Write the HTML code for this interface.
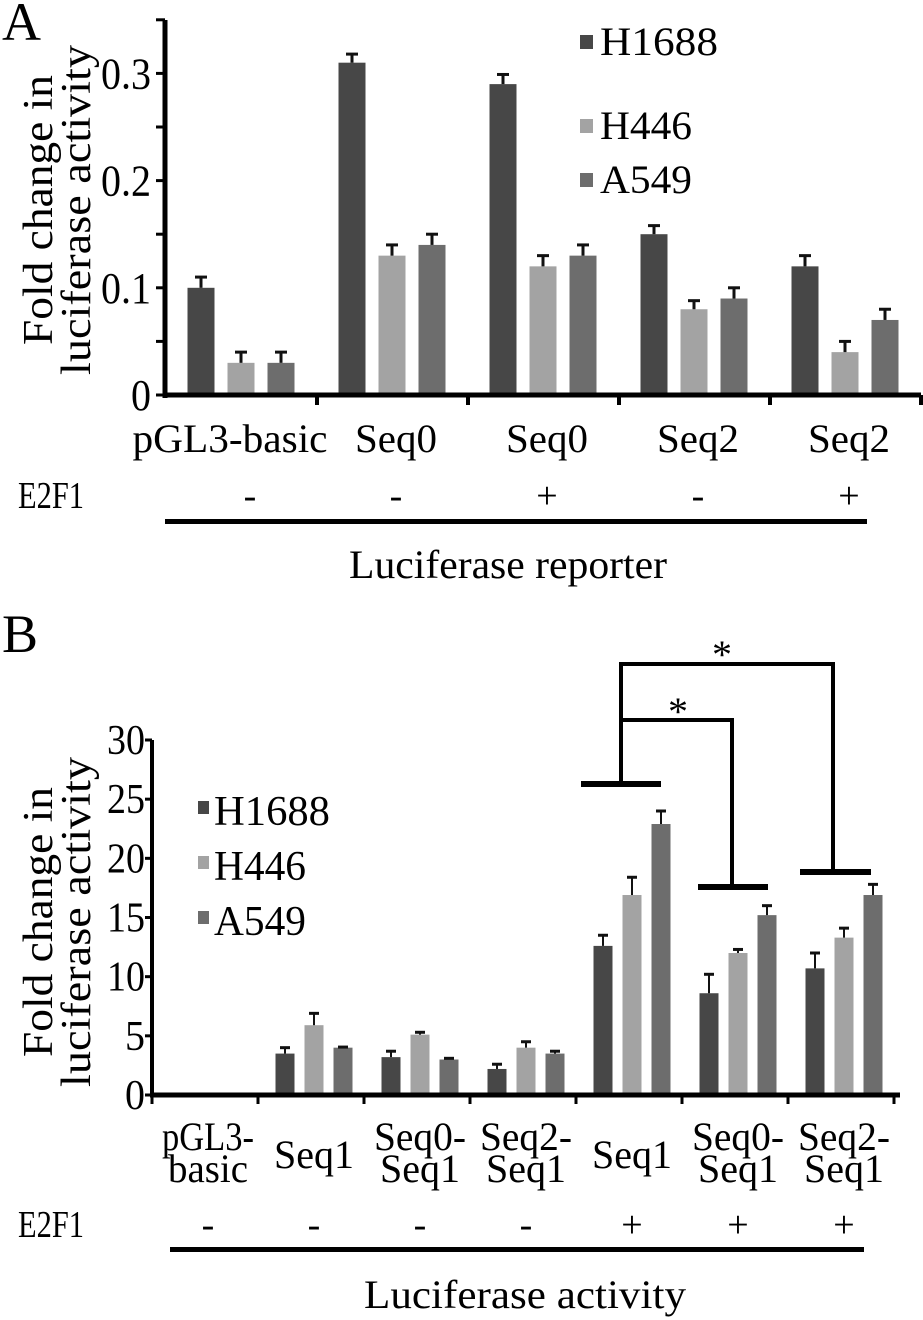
<!DOCTYPE html>
<html><head><meta charset="utf-8"><style>
body{margin:0;background:#fff}
svg{display:block;font-family:"Liberation Serif","Times New Roman",serif}
</style></head><body>
<svg id="c" width="923" height="1320" viewBox="0 0 923 1320">
<text x="2" y="40" font-size="54">A</text>
<text x="2" y="652" font-size="54">B</text>
<g id="ga"></g>
<g id="gb"></g>
</svg>
<script>
const catsA=["pGL3-basic","Seq0","Seq0","Seq2","Seq2"];
const e2fA=["-","-","+","-","+"];
const seriesNames=["H1688","H446","A549"];
const aH1688=[0.10,0.31,0.29,0.15,0.12];
const aH446=[0.03,0.13,0.12,0.08,0.04];
const aA549=[0.03,0.14,0.13,0.09,0.07];
const aErr=[[0.01,0.008,0.009,0.008,0.01],[0.01,0.01,0.01,0.008,0.01],[0.01,0.01,0.01,0.01,0.01]];
const aTicks=["0","0.1","0.2","0.3"];
const catsB=[["pGL3-","basic"],["Seq1"],["Seq0-","Seq1"],["Seq2-","Seq1"],["Seq1"],["Seq0-","Seq1"],["Seq2-","Seq1"]];
const e2fB=["-","-","-","-","+","+","+"];
const bH1688=[0,3.5,3.2,2.2,12.6,8.6,10.7];
const bH446=[0,5.9,5.1,4.0,16.9,12.0,13.3];
const bA549=[0,4.0,3.0,3.5,22.9,15.2,16.9];
const bErr=[[0,0.5,0.5,0.4,0.9,1.6,1.3],[0,1.0,0.2,0.5,1.5,0.3,0.8],[0,0.05,0.1,0.2,1.1,0.8,0.9]];
const bTicks=["0","5","10","15","20","25","30"];
const colors=["#474747","#a3a3a3","#6d6d6d"];
const NS="http://www.w3.org/2000/svg";
function mk(p,t,a){const e=document.createElementNS(NS,t);for(const k in a)e.setAttribute(k,a[k]);p.appendChild(e);return e;}
function txt(p,x,y,s,fs,anchor,name,len){const e=mk(p,"text",{x:x,y:y,"font-size":fs,"text-anchor":anchor||"middle"});e.textContent=s;
if(len){e.setAttribute("textLength",len);e.setAttribute("lengthAdjust","spacingAndGlyphs");}


return e;}

// ---- Chart A
(function(){
const g=document.getElementById("ga");
const x0=165,y0=395,yTop=20,pxPer=1072;
const ya=v=>y0-v*pxPer;
const gx=i=>241+i*151;
const offs=[-40,0,40],bw=27;
const data=[aH1688,aH446,aA549];
data.forEach((arr,s)=>arr.forEach((v,i)=>{
 const cx=gx(i)+offs[s];
 const r=mk(g,"rect",{x:cx-bw/2,y:ya(v),width:bw,height:y0-ya(v),fill:colors[s]});
 
 
 const ey=ya(v+aErr[s][i]);
 mk(g,"line",{x1:cx,x2:cx,y1:ya(v),y2:ey,stroke:"#111","stroke-width":3});
 mk(g,"line",{x1:cx-6,x2:cx+6,y1:ey,y2:ey,stroke:"#111","stroke-width":3});
}));
mk(g,"line",{x1:x0,x2:x0,y1:yTop,y2:y0+3,stroke:"#000","stroke-width":5});
mk(g,"line",{x1:x0-2,x2:921,y1:y0,y2:y0,stroke:"#000","stroke-width":5});
for(let k=0;k<=7;k++){const y=ya(k*0.05);mk(g,"line",{x1:x0-9,x2:x0,y1:y,y2:y,stroke:"#000","stroke-width":3});}
aTicks.forEach((t,k)=>txt(g,x0-14,ya(k*0.1)+15,t,44,"end","y-tick-a-"+t,t.length>1?50:20));
for(let i=0;i<5;i++){mk(g,"line",{x1:gx(i)+76,x2:gx(i)+76,y1:y0,y2:y0+10,stroke:"#000","stroke-width":4});}
catsA.forEach((c,i)=>txt(g,i==0?230:gx(i)+4,452,c,40,"middle","x-label-a-"+i,i==0?195:82));
txt(g,18,508,"E2F1",38,"start","e2f1-label-a",66);
e2fA.forEach((c,i)=>txt(g,i==0?250:gx(i)+4,508,c,38,"middle","e2f1-a-"+i));
mk(g,"rect",{x:165,y:519,width:702,height:5,fill:"#000"});
txt(g,508,578,"Luciferase reporter",40,"middle","x-title-a",318);
const yt=mk(g,"g",{transform:"translate(52,210) rotate(-90)"});
txt(yt,0,0,"Fold change in",42,"middle","y-title-a-1",270);
txt(yt,0,38,"luciferase  activity",42,"middle","y-title-a-2",330);
seriesNames.forEach((n,s)=>{const yy=[42,126,180][s];
 const r=mk(g,"rect",{x:580,y:yy-7,width:13,height:14,fill:colors[s]});
 
 
 txt(g,600,yy+13,n,40,"start","legend-a-"+n,n=="H1688"?118:92);});
})();

// ---- Chart B
(function(){
const g=document.getElementById("gb");
const x0=152,y0=1095,pxPer=355/30;
const yb=v=>y0-v*pxPer;
const gs=i=>152+i*106;
const offs=[27,56,85],bw=19;
const data=[bH1688,bH446,bA549];
data.forEach((arr,s)=>arr.forEach((v,i)=>{
 if(v<=0)return;
 const cx=gs(i)+offs[s];
 const r=mk(g,"rect",{x:cx-bw/2,y:yb(v),width:bw,height:y0-yb(v),fill:colors[s]});
 
 
 const ey=yb(v+bErr[s][i]);
 mk(g,"line",{x1:cx,x2:cx,y1:yb(v),y2:ey,stroke:"#111","stroke-width":2});
 mk(g,"line",{x1:cx-5,x2:cx+5,y1:ey,y2:ey,stroke:"#111","stroke-width":3});
}));
mk(g,"line",{x1:x0,x2:x0,y1:yb(30),y2:y0+2,stroke:"#000","stroke-width":4});
mk(g,"line",{x1:x0-2,x2:900,y1:y0,y2:y0,stroke:"#000","stroke-width":5});
bTicks.forEach((t,k)=>{const y=yb(k*5);mk(g,"line",{x1:x0-7,x2:x0,y1:y,y2:y,stroke:"#000","stroke-width":3});
 txt(g,x0-7,y+14,t,42,"end","y-tick-b-"+t,t.length>1?38:20);});
for(let i=0;i<=7;i++){mk(g,"line",{x1:gs(i),x2:gs(i),y1:y0,y2:y0+9,stroke:"#000","stroke-width":3});}
catsB.forEach((c,i)=>{const cx=gs(i)+56;
 if(c.length==1){txt(g,cx,1168,c[0],40,"middle","x-label-b-"+i,80);}
 else{txt(g,cx,1150,c[0],40,"middle","x-label-b-"+i+"-1",c[0].length>4?92:86);
      txt(g,cx,1182,c[1],40,"middle","x-label-b-"+i+"-2",80);}});
txt(g,18,1237,"E2F1",38,"start","e2f1-label-b",66);
e2fB.forEach((c,i)=>txt(g,gs(i)+56,1237,c,38,"middle","e2f1-b-"+i));
mk(g,"rect",{x:170,y:1247,width:694,height:5,fill:"#000"});
txt(g,525,1308,"Luciferase  activity",40,"middle","x-title-b",322);
const yt=mk(g,"g",{transform:"translate(52,922) rotate(-90)"});
txt(yt,0,0,"Fold change in",42,"middle","y-title-b-1",270);
txt(yt,0,38,"luciferase  activity",42,"middle","y-title-b-2",330);
[808,863,918].forEach((yy,s)=>{const n=seriesNames[s];
 const r=mk(g,"rect",{x:198,y:yy-7,width:11,height:13,fill:colors[s]});
 
 
 txt(g,214,yy+17,n,42,"start","legend-b-"+n,n=="H1688"?116:92);});
// significance brackets
const st={stroke:"#000","stroke-width":4,fill:"none"};
mk(g,"rect",{x:581,y:781,width:80,height:6,fill:"#000"});
mk(g,"rect",{x:698,y:884,width:70,height:6,fill:"#000"});
mk(g,"rect",{x:800,y:869,width:71,height:6,fill:"#000"});
mk(g,"polyline",Object.assign({points:"621,782 621,664 833,664 833,872"},st));
mk(g,"polyline",Object.assign({points:"621,720 732,720 732,886"},st));
txt(g,722,668,"*",40,"middle","sig-star-1");
txt(g,678,725,"*",40,"middle","sig-star-2");
})();
</script>
</body></html>
